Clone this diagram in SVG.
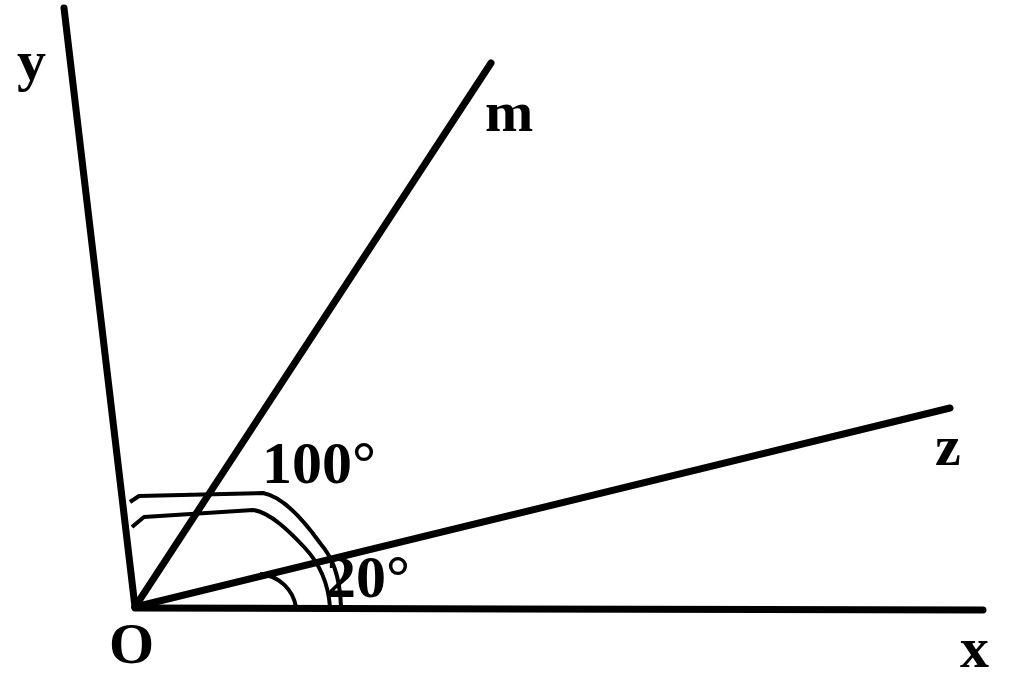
<svg xmlns="http://www.w3.org/2000/svg" width="1024" height="690" viewBox="0 0 1024 690">
<style>
.ray{stroke:#000;stroke-width:7;stroke-linecap:round;fill:none}
.arc{stroke:#000;stroke-width:4;fill:none;stroke-linejoin:round}
.lbl{font-family:"Liberation Serif","Times New Roman",serif;font-weight:bold;font-size:58px;fill:#000}
.num{font-size:60px}
</style>
<rect width="1024" height="690" fill="#fff"/>
<g id="connectors">
<line class="ray" x1="64" y1="8" x2="135" y2="607"/>
<line class="ray" x1="491" y1="63" x2="135" y2="607"/>
<line class="ray" x1="950" y1="408" x2="135" y2="607"/>
<line class="ray" x1="983" y1="610" x2="135" y2="608"/>
</g>
<g id="angle-marks">
<path class="arc" d="M130,502 L139,496 L263,493 C 280,496 300,515 320,543 C 332,557 340,575 341,607"/>
<path class="arc" d="M132,527 L144,517 L253,510 C 270,512 290,532 305,548 C 318,562 328,580 330,607"/>
<path class="arc" d="M260,574 C 280,576 293,590 296,607"/>
</g>
<g id="labels">
<text class="lbl" x="17" y="80">y</text>
<text class="lbl" x="485" y="131">m</text>
<text class="lbl" x="935" y="465">z</text>
<text class="lbl" x="960" y="667">x</text>
<text class="lbl" x="109" y="663">O</text>
<text class="lbl num" x="262" y="483">100°</text>
<text class="lbl num" x="326" y="597">20°</text>
</g>
</svg>
